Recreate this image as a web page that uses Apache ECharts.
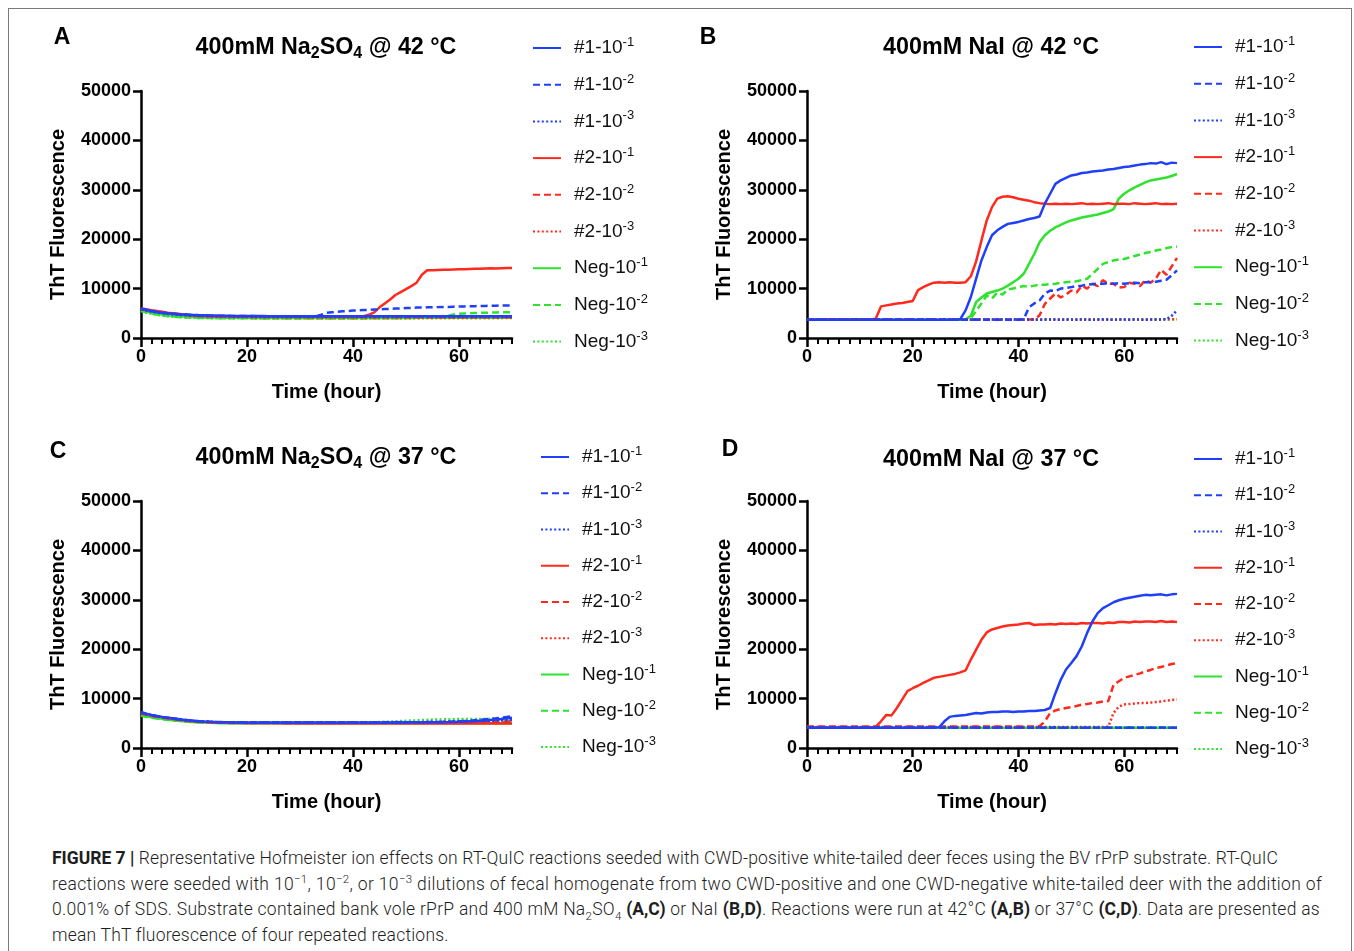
<!DOCTYPE html>
<html>
<head>
<meta charset="utf-8">
<script src="https://cdn.jsdelivr.net/npm/echarts@6/dist/echarts.min.js"></script>
<style>
html,body{margin:0;padding:0;background:#fff;overflow:hidden;width:1354px;height:951px;}
#frame{position:absolute;left:8px;top:8px;width:1344px;height:1000px;border:1.5px solid #7a7a7a;box-sizing:border-box;}
#chart{position:absolute;left:0;top:0;width:1354px;height:830px;}
#caption{position:absolute;left:52px;top:846px;font-family:Roboto,"Liberation Sans",sans-serif;font-weight:300;font-size:17.5px;line-height:25.7px;color:#1e1e1e;white-space:nowrap;}
#caption b{font-weight:700;letter-spacing:0;}
#caption sup,#caption sub{font-size:11.5px;line-height:0;}
#l1{letter-spacing:0.15px;} #l2{letter-spacing:0.33px;} #l3{letter-spacing:0.27px;} #l4{letter-spacing:0.2px;}
</style>
</head>
<body>
<div id="frame"></div>
<div id="chart"></div>
<div id="caption">
<div id="l1"><b>FIGURE 7 |</b> Representative Hofmeister ion effects on RT-QuIC reactions seeded with CWD-positive white-tailed deer feces using the BV rPrP substrate. RT-QuIC</div>
<div id="l2">reactions were seeded with 10<sup>−1</sup>, 10<sup>−2</sup>, or 10<sup>−3</sup> dilutions of fecal homogenate from two CWD-positive and one CWD-negative white-tailed deer with the addition of</div>
<div id="l3">0.001% of SDS. Substrate contained bank vole rPrP and 400 mM Na<sub>2</sub>SO<sub>4</sub> <b>(A,C)</b> or NaI <b>(B,D)</b>. Reactions were run at 42°C <b>(A,B)</b> or 37°C <b>(C,D)</b>. Data are presented as</div>
<div id="l4">mean ThT fluorescence of four repeated reactions.</div>
</div>
<script>
// ---------------- DATA ----------------
const hours = [0,1,2,3,4,5,6,7,8,9,10,11,12,13,14,15,16,17,18,19,20,21,22,23,24,25,26,27,28,29,30,31,32,33,34,35,36,37,38,39,40,41,42,43,44,45,46,47,48,49,50,51,52,53,54,55,56,57,58,59,60,61,62,63,64,65,66,67,68,69,70];
const xMajorTicks = [0,20,40,60];
const xMinorTicks = [2,4,6,8,10,12,14,16,18,22,24,26,28,30,32,34,36,38,42,44,46,48,50,52,54,56,58,62,64,66,68,70];
const groups = ['#1','#2','Neg'];
const dilutions = ['-1','-2','-3'];
const panelTitles = {
  A:['400mM Na','2','SO','4',' @ 42 °C'],
  B:['400mM NaI @ 42 °C'],
  C:['400mM Na','2','SO','4',' @ 37 °C'],
  D:['400mM NaI @ 37 °C']
};

// Panel A: 400mM Na2SO4 @ 42 C
const A_1_1 = [5900,5650,5450,5250,5100,5000,4900,4800,4750,4700,
4650,4600,4600,4550,4550,4500,4500,4480,4470,4450,
4450,4450,4440,4430,4420,4420,4410,4400,4400,4400,
4400,4390,4400,4400,4410,4400,4400,4400,4390,4400,
4400,4390,4400,4400,4410,4400,4400,4400,4390,4400,
4400,4400,4400,4390,4400,4400,4400,4400,4390,4400,
4400,4400,4390,4400,4400,4400,4400,4390,4400,4400,
4400];
const A_1_2 = [6000,5700,5450,5250,5100,5000,4900,4800,4750,4700,
4650,4600,4550,4550,4500,4500,4480,4460,4450,4450,
4440,4430,4420,4420,4410,4400,4400,4400,4400,4390,
4400,4400,4390,4400,4700,5100,5200,5300,5400,5450,
5550,5600,5650,5700,5750,5800,5850,5900,5950,6000,
6050,6100,6150,6150,6200,6200,6250,6300,6300,6350,
6400,6400,6450,6450,6500,6500,6550,6550,6600,6600,
6600];
const A_1_3 = [5800,5550,5350,5150,5000,4900,4800,4700,4650,4600,
4550,4500,4480,4450,4420,4400,4380,4360,4350,4340,
4330,4320,4310,4300,4300,4300,4290,4300,4300,4290,
4300,4300,4290,4300,4300,4290,4300,4300,4290,4300,
4300,4300,4290,4300,4300,4290,4300,4300,4290,4300,
4300,4300,4290,4300,4300,4290,4300,4300,4290,4300,
4300,4300,4290,4300,4300,4290,4300,4300,4290,4300,
4300];
const A_2_1 = [6000,5800,5600,5450,5300,5100,5000,4900,4750,4650,
4550,4500,4450,4420,4400,4400,4380,4370,4360,4350,
4350,4340,4340,4330,4330,4320,4320,4310,4310,4300,
4300,4300,4300,4300,4300,4300,4300,4300,4300,4300,
4300,4320,4400,4700,5200,6200,7000,7800,8700,9300,
9900,10500,11200,12800,13700,13700,13750,13800,13800,13850,
13900,13900,13950,14000,14000,14050,14100,14050,14100,14150,
14150];
const A_2_2 = [5900,5650,5450,5300,5150,5000,4900,4800,4700,4600,
4500,4450,4400,4380,4350,4330,4310,4300,4290,4280,
4270,4260,4250,4260,4240,4250,4230,4240,4220,4230,
4220,4210,4220,4200,4210,4200,4210,4200,4200,4210,
4200,4210,4200,4200,4210,4200,4200,4210,4200,4200,
4210,4200,4200,4210,4200,4200,4210,4200,4200,4210,
4200,4200,4210,4200,4200,4210,4200,4200,4210,4200,
4200];
const A_2_3 = [5850,5600,5400,5250,5100,4950,4850,4750,4650,4550,
4470,4420,4380,4350,4320,4300,4280,4270,4260,4250,
4240,4230,4220,4220,4210,4200,4200,4190,4190,4180,
4180,4180,4170,4180,4170,4170,4180,4170,4170,4160,
4170,4160,4170,4160,4170,4160,4160,4170,4160,4160,
4170,4160,4160,4170,4160,4160,4170,4160,4160,4170,
4160,4160,4170,4160,4160,4170,4160,4160,4170,4160,
4160];
const A_3_1 = [5600,5350,5100,4900,4750,4600,4500,4400,4330,4280,
4230,4200,4170,4150,4130,4120,4100,4100,4090,4080,
4080,4070,4070,4060,4070,4060,4060,4070,4060,4060,
4060,4070,4060,4060,4070,4060,4060,4070,4060,4060,
4060,4070,4060,4060,4070,4060,4070,4060,4070,4070,
4080,4070,4080,4080,4090,4080,4090,4100,4090,4100,
4100,4110,4100,4110,4120,4110,4120,4130,4120,4130,
4140];
const A_3_2 = [5500,5200,4950,4750,4600,4450,4350,4250,4180,4130,
4100,4070,4050,4030,4020,4010,4000,4000,3990,3990,
3980,3980,3980,3970,3970,3970,3970,3960,3960,3960,
3960,3960,3960,3960,3960,3960,3960,3960,3960,3960,
3960,3960,3970,3970,3980,3990,4000,4010,4020,4040,
4060,4080,4100,4130,4160,4200,4250,4350,4500,4750,
4900,4950,5000,5050,5100,5120,5150,5180,5200,5200,
5200];
const A_3_3 = [5450,5150,4900,4700,4550,4420,4320,4240,4180,4130,
4090,4060,4040,4020,4010,4000,3990,3990,3980,3980,
3980,3970,3970,3970,3960,3970,3960,3960,3970,3960,
3960,3970,3960,3960,3970,3960,3960,3970,3960,3960,
3970,3960,3960,3970,3960,3960,3970,3960,3960,3970,
3960,3970,3960,3970,3980,3970,3980,3990,3980,3990,
4000,3990,4000,4010,4000,4010,4020,4010,4020,4030,
4030];

// Panel B: 400mM NaI @ 42 C
const B_1_1 = [3700,3690,3710,3700,3680,3700,3710,3690,3700,3700,
3700,3690,3700,3710,3700,3690,3700,3700,3710,3690,
3700,3700,3690,3700,3710,3700,3690,3700,3700,3800,
5600,8300,12000,15700,18400,20800,21800,22500,23100,23300,
23500,23800,24100,24300,24600,27200,29200,31200,31900,32400,
32900,33100,33400,33500,33700,33800,33900,34100,34200,34400,
34600,34700,34900,35100,35200,35400,35300,35600,35200,35500,
35400];
const B_1_2 = [3700,3710,3690,3700,3700,3710,3690,3700,3700,3710,
3690,3700,3700,3710,3690,3700,3700,3710,3690,3700,
3700,3710,3690,3700,3700,3710,3690,3700,3700,3710,
3690,3700,3700,3710,3690,3700,3700,3710,3690,3700,
3700,3800,6200,7000,7600,9000,9600,9500,10000,10100,
10300,10500,10600,10800,10900,11000,11000,11100,11000,11100,
11000,11100,11200,11100,11300,11300,11400,11600,11800,12700,
13700];
const B_1_3 = [3720,3710,3730,3720,3710,3720,3730,3720,3710,3720,
3720,3710,3730,3720,3710,3720,3730,3720,3710,3720,
3720,3710,3730,3720,3710,3720,3730,3720,3710,3720,
3720,3710,3730,3720,3710,3720,3730,3720,3710,3720,
3720,3710,3730,3720,3710,3720,3730,3720,3710,3720,
3720,3710,3730,3720,3710,3720,3730,3720,3710,3720,
3720,3710,3730,3720,3710,3720,3730,3750,3800,4500,
5600];
const B_2_1 = [3750,3740,3760,3750,3740,3750,3760,3750,3740,3750,
3750,3760,3750,3900,6400,6600,6800,7000,7100,7300,
7500,9700,10300,10800,11200,11300,11200,11300,11200,11200,
11300,12500,15500,19700,23800,26500,28200,28600,28700,28500,
28200,28000,27800,27500,27300,27200,27100,27200,27100,27200,
27100,27200,27300,27100,27200,27100,27200,27300,27100,27200,
27200,27100,27300,27200,27100,27200,27300,27100,27200,27100,
27200];
const B_2_2 = [3750,3760,3740,3750,3760,3740,3750,3760,3740,3750,
3750,3760,3740,3750,3760,3740,3750,3760,3740,3750,
3750,3760,3740,3750,3760,3740,3750,3760,3740,3750,
3750,3760,3740,3750,3760,3740,3750,3760,3740,3750,
3750,3750,3760,3750,4600,6900,8000,9000,8200,8800,
9600,9200,10600,10000,11000,10500,11700,11000,11000,10200,
10300,11200,11000,10500,11700,11200,12000,13800,12800,14500,
16200];
const B_2_3 = [3760,3770,3750,3760,3770,3750,3760,3770,3750,3760,
3760,3770,3750,3760,3770,3750,3760,3770,3750,3760,
3760,3770,3750,3760,3770,3750,3760,3770,3750,3760,
3760,3770,3750,3760,3770,3750,3760,3770,3750,3760,
3760,3770,3750,3760,3770,3750,3760,3770,3750,3760,
3760,3770,3750,3760,3770,3750,3760,3770,3750,3760,
3760,3770,3750,3760,3770,3750,3760,3770,3780,3790,
3800];
const B_3_1 = [3700,3710,3700,3690,3700,3710,3700,3690,3700,3710,
3700,3690,3700,3710,3700,3690,3700,3710,3700,3690,
3700,3710,3700,3690,3700,3710,3700,3690,3700,3710,
3750,4500,7300,8200,9000,9300,9600,10000,10600,11300,
12000,13000,15000,17000,19400,20800,21700,22400,22900,23400,
23800,24100,24400,24600,24800,25000,25300,25600,26100,28200,
29200,29900,30500,31000,31500,31900,32100,32300,32500,32800,
33200];
const B_3_2 = [3700,3690,3710,3700,3690,3710,3700,3690,3710,3700,
3690,3710,3700,3690,3710,3700,3690,3710,3700,3690,
3710,3700,3690,3710,3700,3690,3710,3700,3690,3710,
3700,4000,5500,7000,8600,8000,9200,8800,9800,10000,
10300,10500,10400,10600,10800,10800,10900,11000,11200,11300,
11400,11500,11700,12000,13000,14000,15000,15400,15700,15900,
16000,16300,16600,16900,17200,17400,17700,17900,18200,18400,
18500];
const B_3_3 = [3740,3750,3730,3740,3750,3730,3740,3750,3730,3740,
3740,3750,3730,3740,3750,3730,3740,3750,3730,3740,
3740,3750,3730,3740,3750,3730,3740,3750,3730,3740,
3740,3750,3730,3740,3750,3730,3740,3750,3730,3740,
3740,3750,3730,3740,3750,3730,3740,3750,3730,3740,
3740,3750,3730,3740,3750,3730,3740,3750,3730,3740,
3740,3750,3730,3740,3750,3730,3740,3750,3760,3770,
3780];

// Panel C: 400mM Na2SO4 @ 37 C
const C_1_1 = [7300,6950,6700,6500,6300,6150,6000,5850,5700,5600,
5500,5420,5350,5300,5260,5230,5200,5200,5180,5170,
5160,5150,5150,5140,5150,5140,5150,5150,5140,5150,
5150,5140,5150,5160,5150,5140,5150,5160,5150,5150,
5160,5150,5160,5170,5160,5170,5180,5170,5180,5190,
5180,5190,5200,5190,5200,5210,5220,5230,5240,5260,
5300,5350,5400,5450,5500,5550,5650,5750,5850,6000,
6100];
const C_1_2 = [7200,6900,6650,6450,6280,6130,5980,5840,5700,5600,
5500,5420,5360,5310,5270,5240,5210,5200,5190,5180,
5170,5160,5160,5150,5160,5150,5160,5160,5150,5160,
5160,5150,5160,5170,5160,5150,5160,5170,5160,5160,
5170,5160,5170,5180,5170,5180,5190,5180,5190,5200,
5200,5210,5220,5230,5240,5260,5280,5300,5330,5360,
5400,5450,5500,5600,5700,5800,5900,6000,6150,6300,
6400];
const C_1_3 = [7100,6850,6600,6400,6250,6100,5950,5800,5680,5580,
5480,5400,5340,5300,5260,5230,5210,5190,5180,5170,
5160,5160,5150,5160,5150,5160,5150,5160,5150,5160,
5160,5150,5160,5150,5160,5150,5160,5160,5170,5160,
5170,5160,5170,5170,5180,5170,5180,5180,5190,5180,
5190,5200,5210,5220,5230,5250,5270,5290,5310,5330,
5350,5380,5400,5430,5460,5500,5530,5570,5610,5650,
5700];
const C_2_1 = [7200,6900,6650,6400,6200,6050,5900,5750,5600,5500,
5400,5320,5250,5200,5150,5120,5090,5070,5050,5040,
5030,5020,5010,5000,5000,4990,4990,4980,4980,4980,
4970,4980,4970,4970,4960,4970,4960,4960,4970,4960,
4960,4950,4960,4950,4960,4950,4950,4960,4950,4950,
4950,4960,4950,4950,4960,4950,4950,4960,4950,4950,
4950,4960,4950,4950,4960,4950,4950,4960,4950,4950,
4950];
const C_2_2 = [7000,6750,6500,6300,6150,6000,5850,5700,5580,5480,
5390,5320,5260,5220,5190,5160,5140,5120,5110,5100,
5090,5100,5090,5100,5090,5100,5090,5100,5090,5100,
5090,5100,5090,5100,5090,5100,5090,5100,5090,5100,
5090,5100,5090,5100,5090,5100,5090,5100,5090,5100,
5100,5110,5100,5110,5120,5110,5120,5130,5140,5150,
5160,5170,5180,5190,5200,5220,5230,5250,5270,5290,
5300];
const C_2_3 = [7050,6800,6550,6350,6200,6050,5900,5760,5640,5540,
5450,5380,5320,5270,5240,5210,5190,5170,5160,5150,
5150,5140,5150,5140,5150,5140,5150,5140,5150,5140,
5150,5140,5150,5140,5150,5140,5150,5150,5160,5150,
5160,5160,5170,5160,5170,5180,5180,5190,5190,5200,
5210,5220,5230,5240,5250,5270,5280,5300,5320,5340,
5360,5380,5400,5420,5440,5460,5490,5520,5550,5580,
5600];
const C_3_1 = [6600,6400,6200,6050,5900,5750,5620,5500,5400,5320,
5250,5190,5140,5100,5070,5050,5030,5020,5010,5000,
5000,4990,5000,4990,5000,4990,5000,4990,5000,4990,
5000,4990,5000,4990,5000,4990,5000,4990,5000,4990,
5000,4990,5000,4990,5000,4990,5000,4990,5000,4990,
5000,4990,5000,4990,5000,4990,5000,4990,5000,4990,
5000,4990,5000,4990,5000,4990,5000,4990,5000,4990,
5000];
const C_3_2 = [6500,6300,6120,5980,5850,5720,5600,5490,5390,5310,
5240,5190,5150,5120,5090,5070,5060,5050,5050,5040,
5050,5040,5050,5040,5050,5040,5050,5040,5050,5040,
5050,5040,5050,5040,5050,5040,5050,5050,5060,5050,
5060,5070,5070,5080,5090,5090,5100,5110,5120,5130,
5140,5150,5160,5180,5200,5220,5240,5260,5280,5300,
5320,5340,5360,5380,5400,5420,5440,5460,5480,5490,
5500];
const C_3_3 = [6700,6450,6250,6080,5920,5780,5650,5530,5430,5340,
5270,5210,5170,5140,5120,5100,5090,5080,5080,5070,
5070,5080,5070,5080,5070,5080,5070,5080,5070,5080,
5080,5090,5080,5090,5080,5090,5090,5100,5090,5100,
5100,5120,5140,5170,5200,5250,5300,5350,5400,5450,
5500,5550,5600,5650,5700,5750,5780,5800,5820,5840,
5850,5860,5870,5880,5880,5890,5900,5900,5900,5910,
5900];

// Panel D: 400mM NaI @ 37 C
const D_1_1 = [4100,4100,4090,4100,4110,4100,4090,4100,4100,4110,
4100,4090,4100,4100,4110,4100,4090,4100,4100,4110,
4100,4100,4090,4100,4150,4200,5400,6300,6500,6600,
6700,6900,7100,7000,7200,7300,7300,7400,7400,7300,
7400,7400,7500,7500,7600,7700,8100,11100,13800,15900,
17200,18600,20600,23300,25600,27300,28300,28900,29500,29900,
30200,30400,30600,30800,31000,30900,31000,31100,30900,31100,
31200];
const D_1_2 = [4120,4130,4110,4120,4130,4110,4120,4130,4110,4120,
4120,4130,4110,4120,4130,4110,4120,4130,4110,4120,
4120,4130,4110,4120,4130,4110,4120,4130,4110,4120,
4120,4130,4110,4120,4130,4110,4120,4130,4110,4120,
4120,4130,4110,4120,4130,4110,4120,4130,4110,4120,
4120,4130,4110,4120,4130,4110,4120,4130,4110,4120,
4120,4130,4110,4120,4130,4110,4120,4130,4110,4120,
4120];
const D_1_3 = [4110,4100,4120,4110,4100,4120,4110,4100,4120,4110,
4110,4100,4120,4110,4100,4120,4110,4100,4120,4110,
4110,4100,4120,4110,4100,4120,4110,4100,4120,4110,
4110,4100,4120,4110,4100,4120,4110,4100,4120,4110,
4110,4100,4120,4110,4100,4120,4110,4100,4120,4110,
4110,4100,4120,4110,4100,4120,4110,4100,4120,4110,
4110,4100,4120,4110,4100,4120,4110,4100,4120,4110,
4110];
const D_2_1 = [4150,4150,4160,4150,4140,4150,4160,4150,4150,4140,
4150,4160,4150,4300,5400,6700,6600,8100,9800,11500,
12100,12600,13200,13700,14200,14400,14600,14800,15000,15300,
15700,17900,19900,21900,23400,24000,24300,24600,24800,24900,
25000,25200,25300,24900,25000,25000,25100,25000,25200,25100,
25200,25100,25300,25200,25300,25300,25200,25400,25300,25500,
25500,25400,25600,25500,25600,25600,25500,25700,25500,25600,
25500];
const D_2_2 = [4350,4360,4340,4350,4360,4340,4350,4360,4340,4350,
4350,4360,4340,4350,4360,4340,4350,4360,4340,4350,
4350,4360,4340,4350,4360,4340,4350,4360,4340,4350,
4350,4360,4340,4350,4360,4340,4350,4360,4340,4350,
4350,4350,4360,4350,4400,5400,7100,7600,7900,8100,
8300,8500,8800,8900,9100,9200,9400,9500,12800,13500,
14200,14500,14800,15100,15500,15800,16200,16400,16700,17000,
17200];
const D_2_3 = [4250,4240,4260,4250,4240,4260,4250,4240,4260,4250,
4250,4240,4260,4250,4240,4260,4250,4240,4260,4250,
4250,4240,4260,4250,4240,4260,4250,4240,4260,4250,
4250,4240,4260,4250,4240,4260,4250,4240,4260,4250,
4250,4240,4260,4250,4240,4260,4250,4240,4260,4250,
4250,4240,4260,4250,4240,4260,4250,4300,7100,8400,
8800,8900,9000,9100,9100,9200,9300,9400,9600,9700,
9800];
const D_3_1 = [4100,4110,4090,4100,4110,4090,4100,4110,4090,4100,
4100,4110,4090,4100,4110,4090,4100,4110,4090,4100,
4100,4110,4090,4100,4110,4090,4100,4110,4090,4100,
4100,4110,4090,4100,4110,4090,4100,4110,4090,4100,
4100,4110,4090,4100,4110,4090,4100,4110,4090,4100,
4100,4110,4090,4100,4110,4090,4100,4110,4090,4100,
4100,4110,4090,4100,4110,4090,4100,4110,4090,4100,
4100];
const D_3_2 = [4110,4100,4110,4120,4110,4100,4110,4120,4110,4100,
4110,4100,4110,4120,4110,4100,4110,4120,4110,4100,
4110,4100,4110,4120,4110,4100,4110,4120,4110,4100,
4110,4100,4110,4120,4110,4100,4110,4120,4110,4100,
4110,4100,4110,4120,4110,4100,4110,4120,4110,4100,
4110,4100,4110,4120,4110,4100,4110,4120,4110,4100,
4110,4100,4110,4120,4110,4100,4110,4120,4110,4100,
4110];
const D_3_3 = [4120,4110,4130,4120,4110,4130,4120,4110,4130,4120,
4120,4110,4130,4120,4110,4130,4120,4110,4130,4120,
4120,4110,4130,4120,4110,4130,4120,4110,4130,4120,
4120,4110,4130,4120,4110,4130,4120,4110,4130,4120,
4120,4110,4130,4120,4110,4130,4120,4110,4130,4120,
4120,4110,4130,4120,4110,4130,4120,4110,4130,4120,
4120,4110,4130,4120,4110,4130,4120,4110,4130,4120,
4120];

const panelData = {
  A:[[A_1_1,A_1_2,A_1_3],[A_2_1,A_2_2,A_2_3],[A_3_1,A_3_2,A_3_3]],
  B:[[B_1_1,B_1_2,B_1_3],[B_2_1,B_2_2,B_2_3],[B_3_1,B_3_2,B_3_3]],
  C:[[C_1_1,C_1_2,C_1_3],[C_2_1,C_2_2,C_2_3],[C_3_1,C_3_2,C_3_3]],
  D:[[D_1_1,D_1_2,D_1_3],[D_2_1,D_2_2,D_2_3],[D_3_1,D_3_2,D_3_3]]
};

// ---------------- STYLE / LAYOUT ----------------
const FONT = '"Liberation Sans", Arial, Helvetica, sans-serif';
const groupColors = ['#1f3ffa','#ff2a1c','#2ee22e'];
const dashTypes = ['solid',[7,4],[2,2.4]];
const layout = {
  A:{grid:{left:141, top:91, width:371, height:247}, legend:{left:532, top:36, gap:15.2}, title:[326,48], letter:[62,38]},
  B:{grid:{left:807, top:91, width:370, height:247}, legend:{left:1193, top:35, gap:15.2}, title:[991,48], letter:[708,38]},
  C:{grid:{left:141, top:501, width:371, height:247}, legend:{left:540, top:445, gap:14.75}, title:[326,458], letter:[58,452]},
  D:{grid:{left:807, top:501, width:370, height:247}, legend:{left:1193, top:447, gap:14.75}, title:[991,460], letter:[730,450]}
};
const panels = ['A','B','C','D'];

const grids = [], xAxes = [], yAxes = [], series = [], legends = [], graphics = [];
panels.forEach((p, pi) => {
  const L = layout[p];
  grids.push(Object.assign({containLabel:false}, L.grid));
  xAxes.push({
    type:'value', gridIndex:pi, min:0, max:70, interval:10, position:'bottom',
    axisLine:{show:true, onZero:false, lineStyle:{color:'#000', width:2.5}},
    axisTick:{show:true, customValues:xMajorTicks, length:9, lineStyle:{color:'#000', width:2.5}},
    axisLabel:{customValues:xMajorTicks, margin:10, color:'#000', fontWeight:'bold', fontSize:18, fontFamily:FONT},
    splitLine:{show:false},
    name:'Time (hour)', nameLocation:'middle', nameGap:44,
    nameTextStyle:{color:'#000', fontWeight:'bold', fontSize:20, fontFamily:FONT}
  });
  xAxes.push({
    type:'value', gridIndex:pi, min:0, max:70, interval:10, position:'bottom',
    axisLine:{show:false},
    axisTick:{show:true, customValues:xMinorTicks, length:6, lineStyle:{color:'#000', width:2}},
    axisLabel:{show:false}, splitLine:{show:false}
  });
  yAxes.push({
    type:'value', gridIndex:pi, min:0, max:50000, interval:10000,
    axisLine:{show:true, onZero:false, lineStyle:{color:'#000', width:2.5}},
    axisTick:{show:true, length:8, lineStyle:{color:'#000', width:2.5}},
    axisLabel:{margin:10, color:'#000', fontWeight:'bold', fontSize:18, fontFamily:FONT, formatter:(v) => String(v)},
    splitLine:{show:false},
    name:'ThT Fluorescence', nameLocation:'middle', nameGap:73, nameRotate:90,
    nameTextStyle:{color:'#000', fontWeight:'bold', fontSize:20, fontFamily:FONT}
  });
  const names = [];
  const panelSeries = [];
  groups.forEach((g, gi) => {
    dilutions.forEach((d, di) => {
      const name = p + ':' + g + '-10^' + d;
      names.push(name);
      const arr = panelData[p][gi][di];
      panelSeries.push({
        type:'line', name, xAxisIndex:pi*2, yAxisIndex:pi, symbol:'none', animation:false,
        lineStyle:{color:groupColors[gi], width:2.5, type:dashTypes[di]},
        itemStyle:{color:groupColors[gi]},
        data: hours.map((h, i) => [h, arr[i]])
      });
    });
  });
  panelSeries.reverse().forEach(s => series.push(s));
  legends.push({
    orient:'vertical', left:L.legend.left, top:L.legend.top, padding:0, itemWidth:28, itemHeight:14,
    itemGap:L.legend.gap, data:names, selectedMode:false,
    itemStyle:{opacity:0},
    formatter: (n) => { const s = n.split(':')[1].split('^'); return '{n|' + s[0] + '}{s|' + s[1] + '}'; },
    textStyle:{color:'#111', padding:[0,0,0,8],
      rich:{ n:{fontSize:19, fontFamily:FONT, color:'#111', lineHeight:24},
             s:{fontSize:13, fontFamily:FONT, color:'#111', lineHeight:12, verticalAlign:'top'} }}
  });
  const t = panelTitles[p];
  let txt;
  if (t.length === 1) txt = '{m|' + t[0] + '}';
  else txt = '{m|' + t[0] + '}{s|' + t[1] + '}{m|' + t[2] + '}{s|' + t[3] + '}{m|' + t[4] + '}';
  graphics.push({
    type:'text', x:L.title[0], y:L.title[1],
    style:{ text:txt, align:'center', verticalAlign:'middle', textAlign:'center', textVerticalAlign:'middle',
      rich:{ m:{fontSize:23.3, fontWeight:'bold', fontFamily:FONT, fill:'#000', color:'#000', lineHeight:27},
             s:{fontSize:16, fontWeight:'bold', fontFamily:FONT, fill:'#000', color:'#000', lineHeight:12, verticalAlign:'bottom'} } }
  });
  graphics.push({
    type:'text', x:L.letter[0], y:L.letter[1],
    style:{ text:p, align:'center', verticalAlign:'middle', textAlign:'center', textVerticalAlign:'middle',
      font:'bold 23px ' + FONT, fill:'#000' }
  });
});

const chart = echarts.init(document.getElementById('chart'), null, {renderer:'canvas'});
chart.setOption({
  animation:false,
  backgroundColor:'transparent',
  grid:grids, xAxis:xAxes, yAxis:yAxes, series, legend:legends, graphic:graphics
});
</script>
</body>
</html>
